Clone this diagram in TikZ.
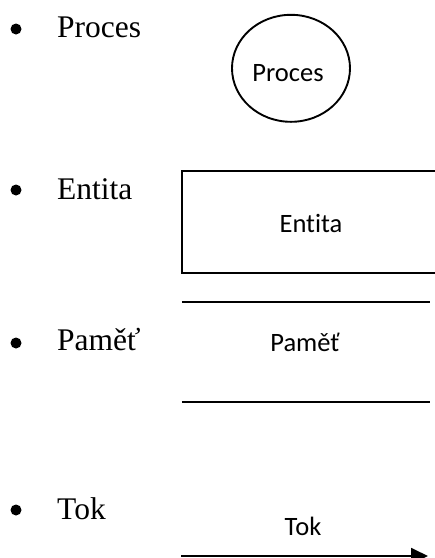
\documentclass[tikz,border=0pt]{standalone}
\usepackage{fontspec}
\setmainfont{Liberation Serif}
\newfontfamily\calib[Ligatures=NoCommon]{Carlito}
\usetikzlibrary{shapes.geometric,arrows.meta}
\begin{document}
\begin{tikzpicture}[x=1pt,y=1pt,
  lefttext/.style={anchor=base west,inner sep=0pt,font=\fontsize{31.5}{36}\selectfont},
  righttext/.style={anchor=base,inner sep=0pt,font=\calib\fontsize{26.5}{30}\selectfont},
  bulletdot/.style={circle,fill=black,inner sep=0pt,minimum size=11pt},
  shapeline/.style={line width=1.9pt}]
\useasboundingbox (0,0) rectangle (435,-558);
\clip (0,0) rectangle (435,-558);
% bullets and left labels
\node[bulletdot] (b1) at (16,-29) {};
\node[lefttext] (l1) at (57,-37) {Proces};
\node[bulletdot] (b2) at (16,-190) {};
\node[lefttext] (l2) at (57,-199.3) {Entita};
\node[bulletdot] (b3) at (16,-343) {};
\node[lefttext] (l3) at (57,-350.7) {Paměť};
\node[bulletdot] (b4) at (16,-510) {};
\node[lefttext] (l4) at (57,-519.3) {Tok};
% process
\node[ellipse,draw,shapeline,minimum width=118pt,minimum height=107pt,inner sep=0pt] (proc) at (291,-68.3) {};
\node[righttext] (proctxt) at (288,-81) {Proces};
% entity
\node[rectangle,draw,shapeline,minimum width=258pt,minimum height=102pt,inner sep=0pt] (ent) at (311,-222) {};
\node[righttext] (enttxt) at (311,-232.7) {Entita};
% memory
\node[rectangle,minimum width=248pt,minimum height=100pt,inner sep=0pt] (mem) at (306,-352) {};
\draw[shapeline] (mem.north west) -- (mem.north east);
\draw[shapeline] (mem.south west) -- (mem.south east);
\node[righttext] (memtxt) at (305,-351) {Paměť};
% flow
\coordinate (fa) at (181,-556);
\coordinate (fb) at (428,-556);
\draw[shapeline,-{Triangle[length=17pt,width=16pt]}] (fa) -- (fb);
\node[righttext] (toktxt) at (303,-535) {Tok};
\end{tikzpicture}
\end{document}
